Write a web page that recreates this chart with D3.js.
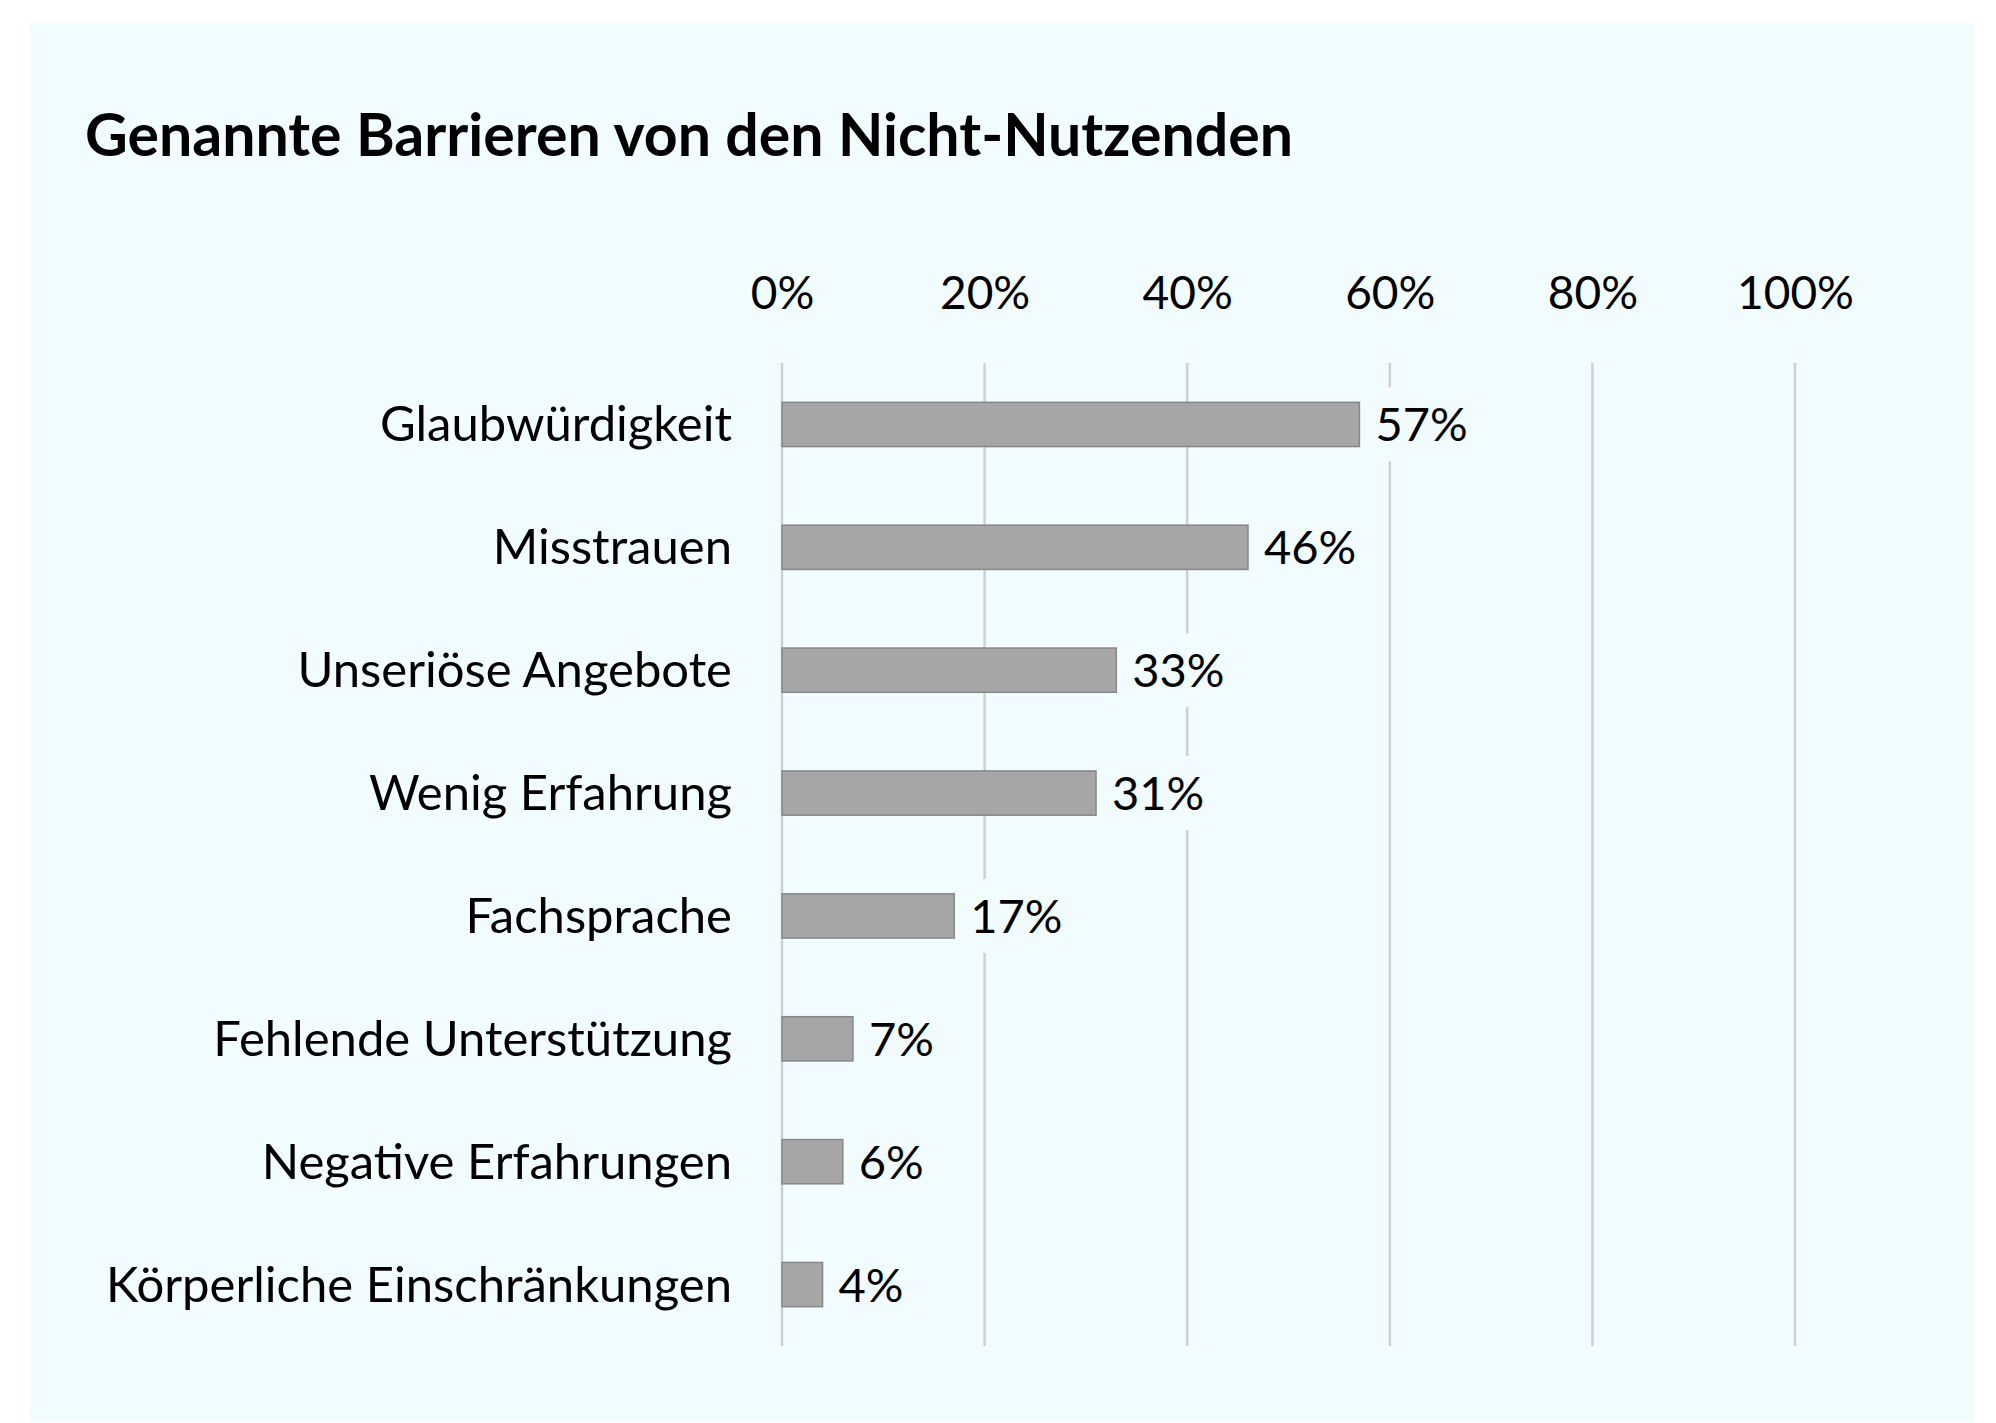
<!DOCTYPE html>
<html>
<head>
<meta charset="utf-8">
<script src="https://cdn.jsdelivr.net/npm/d3@7"></script>
<style>
  body { margin: 0; background: #fff; }
  text { font-family: Lato, "Open Sans", sans-serif; fill: #000; }
</style>
</head>
<body>
<div id="chart"></div>
<script>
// data
const categories = ["Glaubwürdigkeit", "Misstrauen", "Unseriöse Angebote", "Wenig Erfahrung",
                    "Fachsprache", "Fehlende Unterstützung", "Negative Erfahrungen", "Körperliche Einschränkungen"];
const values = [57, 46, 33, 31, 17, 7, 6, 4];
const ticks = [0, 20, 40, 60, 80, 100];

const W = 1996, H = 1423;
const bg = "#f2fbfe";

const svg = d3.select("#chart")
    .append("svg")
    .attr("width", W)
    .attr("height", H);

// panel
svg.append("rect")
    .attr("x", 30).attr("y", 23)
    .attr("width", 1944).attr("height", H - 25)
    .attr("fill", bg);

svg.append("text")
    .attr("x", 85).attr("y", 156)
    .style("font-size", "59px")
    .style("font-weight", "bold")
    .text("Genannte Barrieren von den Nicht-Nutzenden");

const x = d3.scaleLinear().domain([0, 100]).range([782, 1795]);
const y = d3.scaleBand()
    .domain(categories)
    .range([363, 1346])
    .paddingInner(0.64)
    .paddingOuter(0.32);

// gridlines
svg.append("g")
    .selectAll("line")
    .data(ticks)
    .join("line")
    .attr("x1", d => x(d)).attr("x2", d => x(d))
    .attr("y1", 363).attr("y2", 1346)
    .attr("stroke", "#d0d0d3")
    .attr("stroke-width", 2.5);

// top axis labels
const axis = d3.axisTop(x)
    .tickValues(ticks)
    .tickFormat(d => d + "%")
    .tickSize(0)
    .tickPadding(0);
const ax = svg.append("g")
    .attr("transform", "translate(0,309)")
    .call(axis);
ax.select(".domain").remove();
ax.selectAll("text")
    .attr("dy", 0)
    .style("font-size", "46px")
    .style("font-family", "Lato, sans-serif")
    .attr("fill", "#000");

// category labels
svg.append("g")
    .selectAll("text")
    .data(categories)
    .join("text")
    .attr("x", 732)
    .attr("y", d => y(d) + y.bandwidth() / 2 + 17)
    .attr("text-anchor", "end")
    .style("font-size", "49px")
    .text(d => d);

// bars
svg.append("g")
    .selectAll("rect")
    .data(values)
    .join("rect")
    .attr("x", x(0))
    .attr("y", (d, i) => y(categories[i]))
    .attr("width", d => x(d) - x(0))
    .attr("height", y.bandwidth())
    .attr("fill", "#a6a6a6")
    .attr("stroke", "#878787")
    .attr("stroke-width", 1.5);

// value labels with background box that covers gridlines
const lbl = svg.append("g")
    .selectAll("g")
    .data(values)
    .join("g")
    .attr("transform", (d, i) => `translate(${x(d) + 16},${y(categories[i]) + y.bandwidth() / 2})`);

lbl.append("rect")
    .attr("x", -6).attr("y", -37)
    .attr("height", 74)
    .attr("fill", bg);

lbl.append("text")
    .attr("y", 17)
    .style("font-size", "47px")
    .text(d => d + "%");

lbl.each(function() {
    const g = d3.select(this);
    const w = g.select("text").node().getComputedTextLength();
    g.select("rect").attr("width", w + 12);
});
</script>
</body>
</html>
